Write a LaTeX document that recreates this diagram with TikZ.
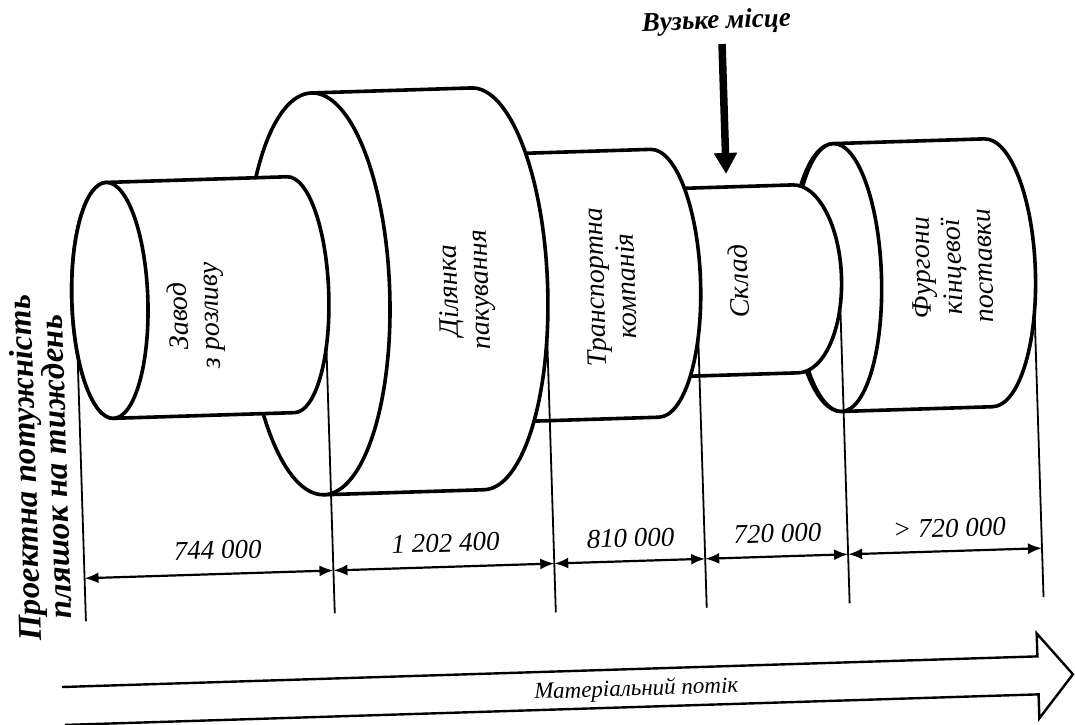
\documentclass[tikz,border=0pt]{standalone}
\usepackage{fontspec}
\setmainfont{Liberation Serif}
\usetikzlibrary{arrows.meta}
\newcommand\drawcyl[4]{% #1 left centre x, #2 right centre x, #3 x radius, #4 y radius
  \filldraw[cyl] (#1,287-#4) -- (#2,287-#4)
    arc[start angle=-90,end angle=90,x radius=#3,y radius=#4]
    -- (#1,287+#4)
    arc[start angle=90,end angle=270,x radius=#3,y radius=#4] -- cycle;}
\newcommand\drawface[3]{% centre x, x radius, y radius
  \draw[cyl] (#1,287) ellipse [x radius=#2, y radius=#3];}
\begin{document}
\begin{tikzpicture}[x=1pt,y=-1pt,
  cyl/.style={draw=black, line width=3.6pt, fill=white, line join=round},
  ext/.style={line width=1.8pt},
  dim/.style={line width=2.2pt, {Latex[length=14pt,width=11pt]}-{Latex[length=14pt,width=11pt]}},
  lab/.style={font=\fontsize{28}{31}\selectfont\itshape, align=center, rotate=90},
  num/.style={font=\fontsize{27}{31}\selectfont\itshape},
  side/.style={font=\fontsize{33}{31}\selectfont\bfseries\itshape, align=center, rotate=90},
  flow/.style={line width=2.4pt, line join=miter},
  bigarrow/.style={line width=7.5pt, -{Triangle[length=21pt,width=22pt]}}
]
\useasboundingbox (0,0) rectangle (1075,724);
\begin{scope}[rotate around={1.8:(537,362)}, transform shape]
  % cylinders, drawn from right to left
  \drawcyl{840}{991}{47}{134}
  \drawface{840}{44}{134}
  \drawcyl{655}{798}{46}{94}
  \drawcyl{480}{657}{46}{134}
  \drawcyl{323}{480}{70}{201}
  \drawface{320}{72}{201}
  \drawcyl{112}{293}{38}{118}
  \drawface{112}{38}{118}

  % labels inside cylinders
  \node[lab] (t1) at (198,305) {Завод\\з розливу};
  \node[lab] (t2) at (469,288) {Ділянка\\пакування};
  \node[lab] (t3) at (613,289) {Транспортна\\компанія};
  \node[lab] (t4) at (741,288) {Склад};
  \node[lab] (t5) at (955,280) {Фургони\\кінцевої\\поставки};

  % bottleneck
  \node[font=\fontsize{27}{31}\selectfont\bfseries\itshape] (bn) at (727,28) {Вузьке місце};
  \coordinate (ba) at (732,50);
  \coordinate (bb) at (732,180);
  \draw[bigarrow] (ba) -- (bb);

  % extension lines
  \coordinate (e1t) at (78,340);   \coordinate (e1b) at (78,607);
  \coordinate (e2t) at (327,340);  \coordinate (e2b) at (327,607);
  \coordinate (e3t) at (548,340);  \coordinate (e3b) at (548,613);
  \coordinate (e4t) at (699,340);  \coordinate (e4b) at (699,613);
  \coordinate (e5t) at (842,320);  \coordinate (e5b) at (842,613);
  \coordinate (e6t) at (1036,330); \coordinate (e6b) at (1036,613);
  \foreach \i in {1,...,6} {\draw[ext] (e\i t) -- (e\i b);}

  % dimension arrows
  \coordinate (d1) at (78,564);
  \coordinate (d2) at (327,564);
  \coordinate (d3) at (548,564);
  \coordinate (d4) at (699,564);
  \coordinate (d5) at (842,564);
  \coordinate (d6) at (1036,564);
  \draw[dim] (d1) -- (d2);
  \draw[dim] (d2) -- (d3);
  \draw[dim] (d3) -- (d4);
  \draw[dim] (d4) -- (d5);
  \draw[dim] (d5) -- (d6);

  \node[num] (n1) at (212,540) {744 000};
  \node[num] (n2) at (440,540) {1 202 400};
  \node[num] (n3) at (625,541) {810 000};
  \node[num] (n4) at (772,541) {720 000};
  \node[num] (n5) at (944,541) {> 720 000};

  % side label
  \node[side] (sl) at (37,452) {Проектна потужність\\пляшок на тиждень};

  % material flow arrow
  \coordinate (f1) at (52,672);
  \coordinate (f2) at (1028,672);
  \coordinate (f3) at (1028,649);
  \coordinate (f4) at (1063,691);
  \coordinate (f5) at (1028,734);
  \coordinate (f6) at (1028,710);
  \coordinate (f7) at (54,710);
  \draw[flow] (f1) -- (f2) -- (f3) -- (f4) -- (f5) -- (f6) -- (f7);
  \node[font=\fontsize{23}{27}\selectfont\itshape] (mf) at (626,693) {Матеріальний потік};
\end{scope}
\end{tikzpicture}
\end{document}
